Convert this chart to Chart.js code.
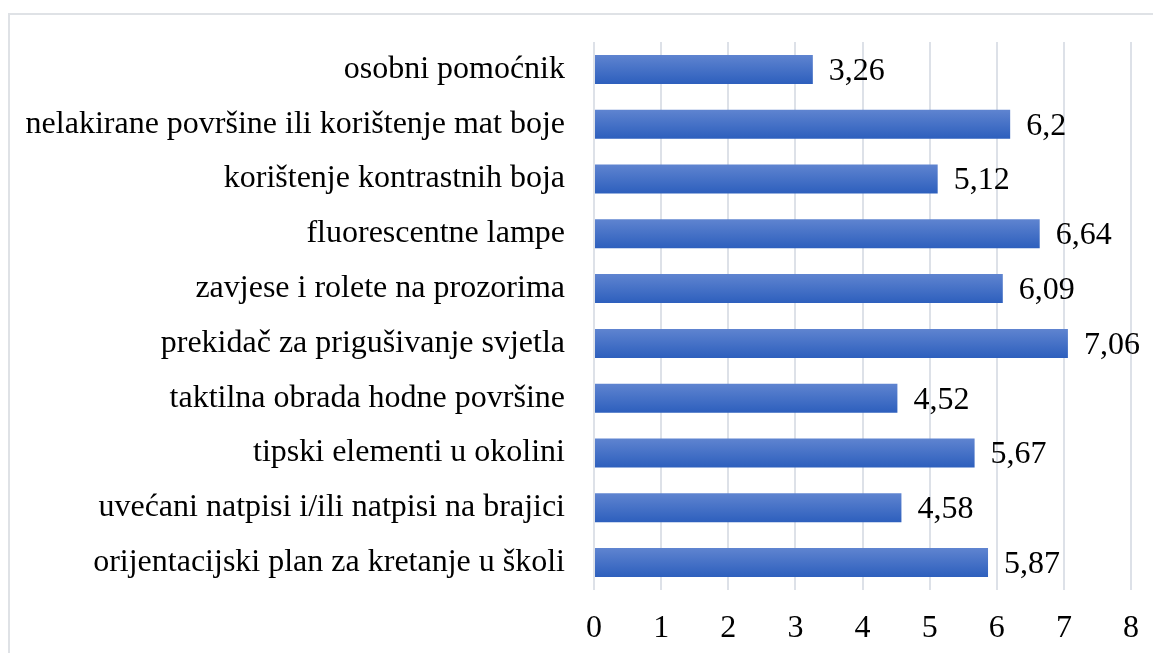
<!DOCTYPE html>
<html>
<head>
<meta charset="utf-8">
<script src="https://cdn.jsdelivr.net/npm/chart.js@4/dist/chart.umd.min.js"></script>
<style>
  html, body { margin: 0; padding: 0; background: #fff; overflow: hidden; }
  .frame { position: absolute; left: 8px; top: 13px; width: 1200px; height: 700px;
           border-left: 2px solid #dfe2e6; border-top: 2px solid #dfe2e6; }
  .wrap { position: absolute; left: 0; top: 0; width: 1153px; height: 653px; }
</style>
</head>
<body>
<div class="frame"></div>
<div class="wrap"><canvas id="barChart"></canvas></div>
<script>
// data, top row first
const categories = [
    'osobni pomoćnik',
    'nelakirane površine ili korištenje mat boje',
    'korištenje kontrastnih boja',
    'fluorescentne lampe',
    'zavjese i rolete na prozorima',
    'prekidač za prigušivanje svjetla',
    'taktilna obrada hodne površine',
    'tipski elementi u okolini',
    'uvećani natpisi i/ili natpisi na brajici',
    'orijentacijski plan za kretanje u školi'
];
const values = [3.26, 6.2, 5.12, 6.64, 6.09, 7.06, 4.52, 5.67, 4.58, 5.87];
const xTicks = [0, 1, 2, 3, 4, 5, 6, 7, 8];

const FONT = "'Liberation Serif', 'Times New Roman', serif";
const FONT_SIZE = 32;
const BAR_H = 29;

// ── Excel-like vertical gradient per bar ────────────────────────────
function barFill(ctx) {
    const chart = ctx.chart;
    const y = chart.scales && chart.scales.y;
    if (!y || ctx.dataIndex == null || !chart.chartArea) return '#4472c4';
    const c = y.getPixelForValue(ctx.dataIndex);
    const g = chart.ctx.createLinearGradient(0, c - BAR_H / 2, 0, c + BAR_H / 2);
    g.addColorStop(0, '#5f84d0');
    g.addColorStop(1, '#2d5fbd');
    return g;
}

// ── Value labels at the bar ends ────────────────────────────────────
const valueLabels = {
    id: 'valueLabels',
    afterDatasetsDraw(chart) {
        const { ctx } = chart;
        const meta = chart.getDatasetMeta(0);
        ctx.save();
        ctx.font = FONT_SIZE + 'px ' + FONT;
        ctx.fillStyle = '#000';
        ctx.textAlign = 'left';
        ctx.textBaseline = 'middle';
        meta.data.forEach((bar, i) => {
            const txt = String(values[i]).replace('.', ',');
            ctx.fillText(txt, bar.x + 16, bar.y + 2);
        });
        ctx.restore();
    }
};

new Chart(document.getElementById('barChart'), {
    type: 'bar',
    data: {
        labels: categories,
        datasets: [{
            data: values,
            backgroundColor: barFill,
            borderWidth: 0,
            barPercentage: 0.53,
            categoryPercentage: 1
        }]
    },
    options: {
        indexAxis: 'y',
        responsive: true,
        maintainAspectRatio: false,
        animation: false,
        layout: { padding: { left: 0, right: 22, top: 42, bottom: 0 } },
        plugins: { legend: { display: false }, tooltip: { enabled: false } },
        scales: {
            x: {
                min: 0, max: 8,
                afterBuildTicks: s => { s.ticks = xTicks.map(v => ({ value: v })); },
                afterFit: s => { s.height = 63; s.paddingRight = 0; s.paddingLeft = 0; },
                grid: { color: '#dde1e8', lineWidth: 2, drawTicks: false },
                border: { display: false },
                ticks: { color: '#000', font: { family: FONT, size: FONT_SIZE }, padding: 19 }
            },
            y: {
                afterFit: s => { s.width = 594; },
                grid: { display: false },
                border: { display: false },
                ticks: { color: '#000', font: { family: FONT, size: FONT_SIZE }, padding: 21 }
            }
        }
    },
    plugins: [valueLabels]
});
</script>
</body>
</html>
